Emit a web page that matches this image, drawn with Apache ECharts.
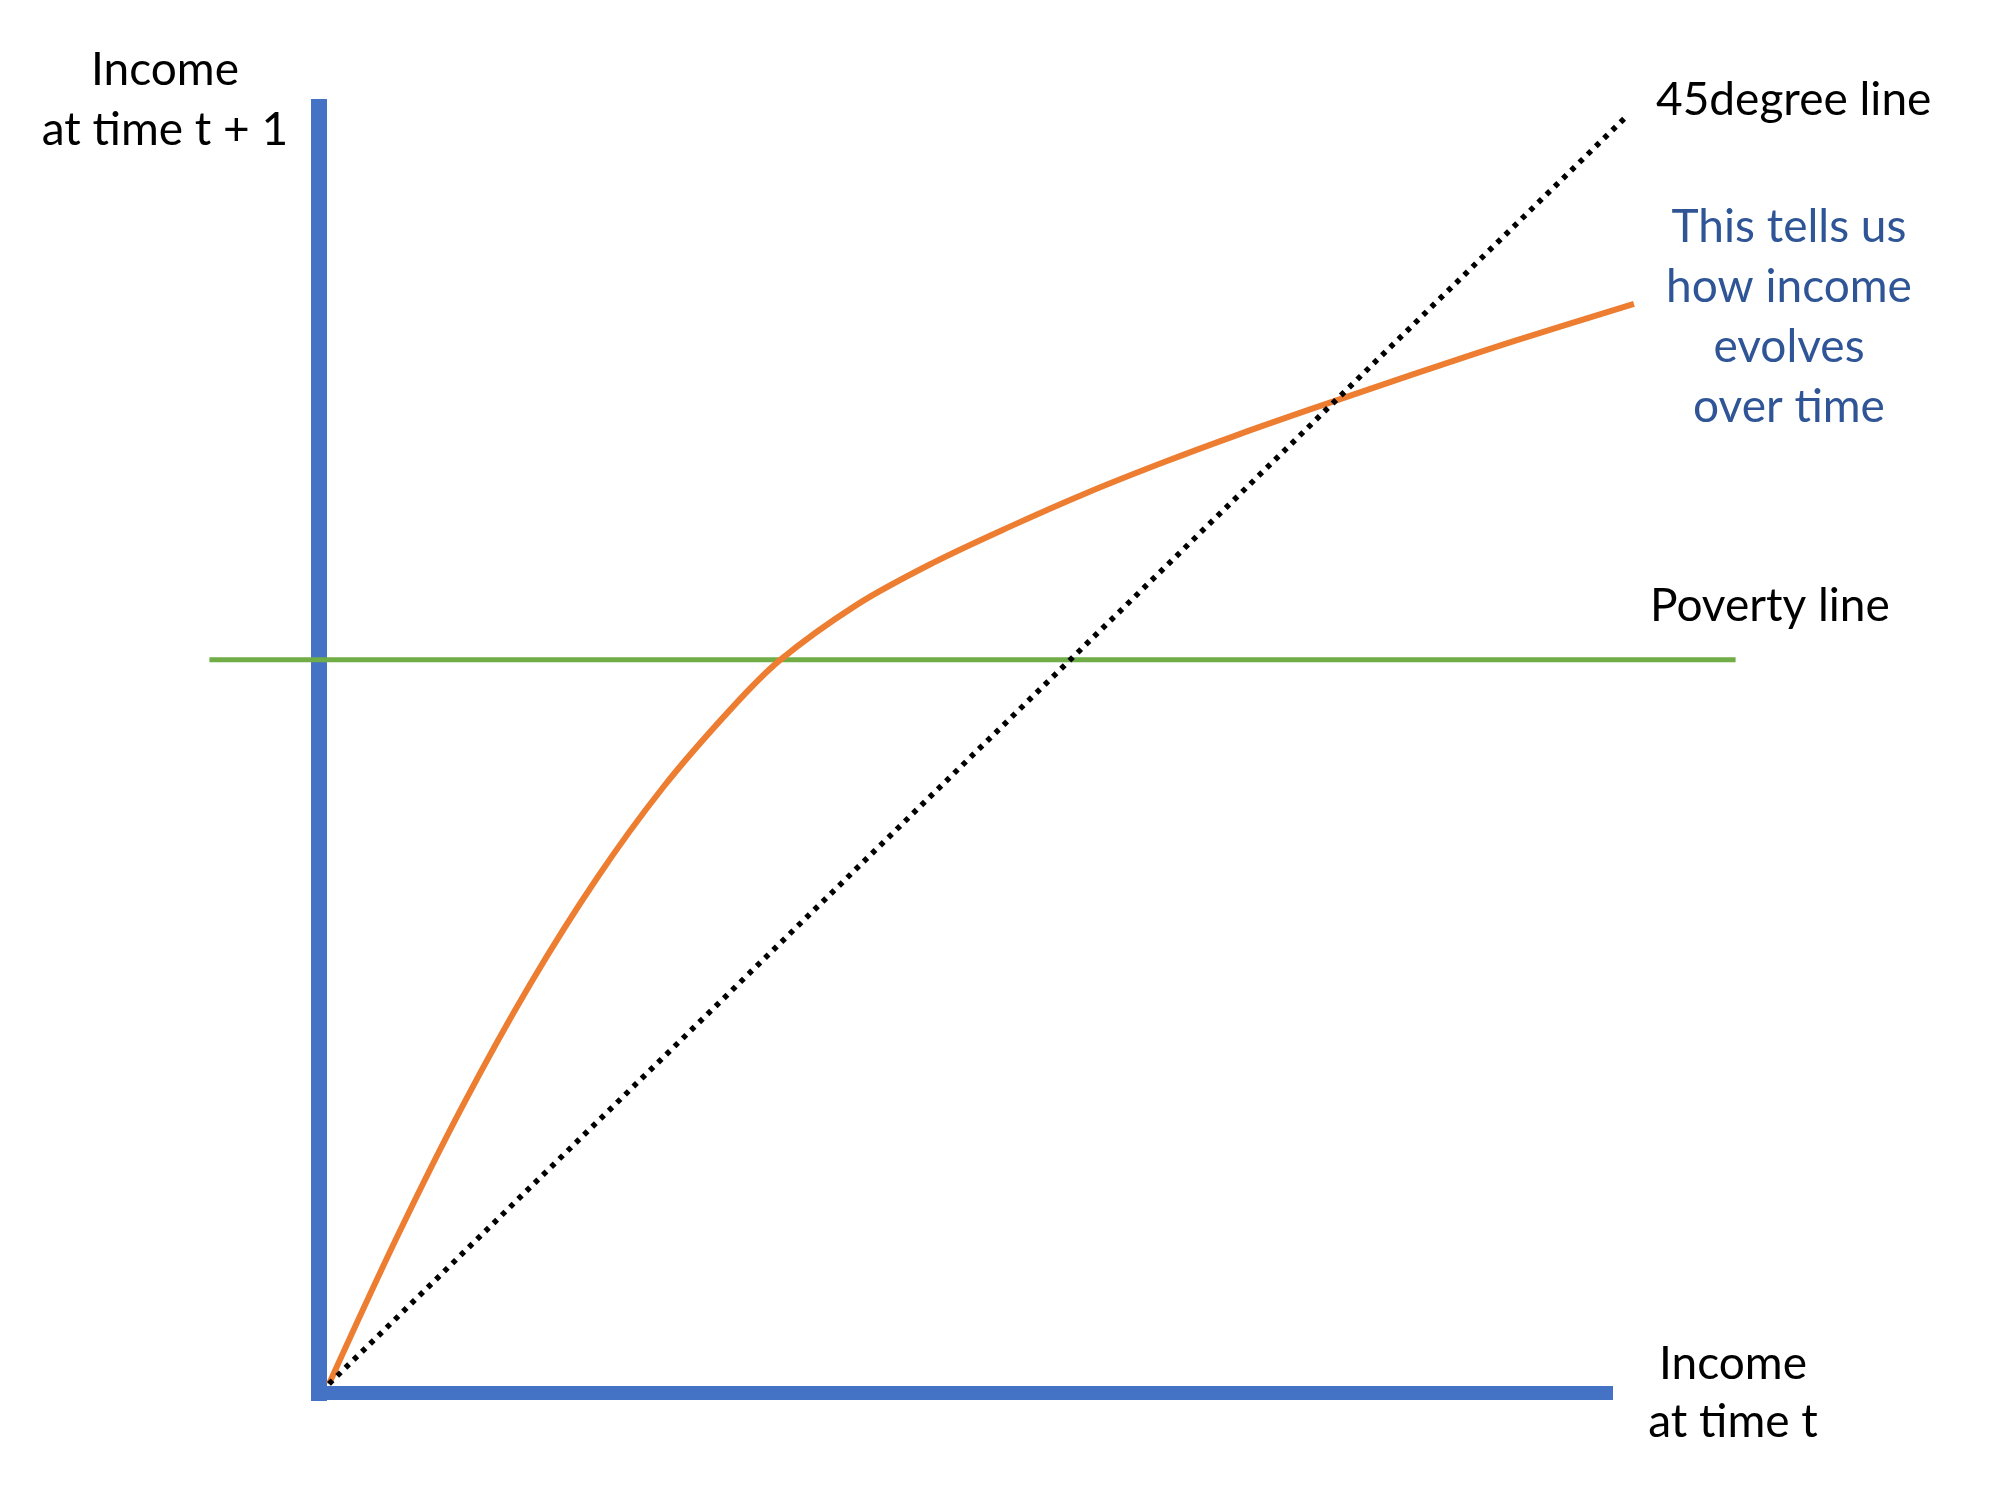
<!DOCTYPE html>
<html>
<head>
<meta charset="utf-8">
<script src="https://cdn.jsdelivr.net/npm/echarts@6/dist/echarts.min.js"></script>
<style>html,body{margin:0;padding:0;background:#fff;}#c{width:2000px;height:1500px;}</style>
</head>
<body>
<div id="c"></div>
<script>
// Income at time t (x) -> income at time t+1 (y), arbitrary units
const curveX = [0, 5.23, 10.31, 15.46, 20.62, 25.69, 30.85, 34.62, 40.62, 46.46, 52.38, 58.23, 64.15, 70.0, 75.92, 83.15, 91.08, 100.38];
const curveY = [0, 11.30, 21.45, 30.73, 38.92, 45.88, 51.85, 55.62, 59.95, 63.16, 65.95, 68.52, 70.88, 73.05, 75.12, 77.58, 80.20, 83.08];
const diagX = [0, 99.9];
const diagY = [0, 97.6];
const povertyX = [-9.2, 108.2];
const povertyY = [55.7, 55.7];

const xLabelLines = ['Income', 'at time t'];
const yLabelLines = ['Income', 'at time t + 1'];
const diagLabel = '45degree line';
const povertyLabel = 'Poverty line';
const noteLines = ['This tells us', 'how income', 'evolves', 'over time'];

const zip = (a, b) => a.map((v, i) => [v, b[i]]);
const FONT = 'Lato';
const FS = 46;
const hidden = {axisLine: {show: false}, axisTick: {show: false}, axisLabel: {show: false}, splitLine: {show: false}};

const chart = echarts.init(document.getElementById('c'), null, {renderer: 'canvas'});
chart.setOption({
  animation: false,
  backgroundColor: '#ffffff',
  grid: [
    // visible axes
    {left: 319, top: 107, right: 394, bottom: 107, containLabel: false},
    // drawing area for the curves (same scale, wider extent)
    {left: 199, top: 84, right: 241, bottom: 107, containLabel: false}
  ],
  xAxis: [
    {
      gridIndex: 0, type: 'value', min: -0.8, max: 98.2,
      axisLine: {show: true, onZero: false, lineStyle: {color: '#4472C4', width: 14, cap: 'square'}},
      axisTick: {show: false}, axisLabel: {show: false}, splitLine: {show: false}
    },
    Object.assign({gridIndex: 1, type: 'value', min: -10, max: 110}, hidden)
  ],
  yAxis: [
    {
      gridIndex: 0, type: 'value', min: -0.7, max: 98.2,
      axisLine: {show: true, onZero: false, lineStyle: {color: '#4472C4', width: 16, cap: 'square'}},
      axisTick: {show: false}, axisLabel: {show: false}, splitLine: {show: false}
    },
    Object.assign({gridIndex: 1, type: 'value', min: -0.7, max: 100}, hidden)
  ],
  series: [
    {
      name: 'Poverty line', type: 'line', xAxisIndex: 1, yAxisIndex: 1, data: zip(povertyX, povertyY),
      symbol: 'none', clip: false, silent: true,
      lineStyle: {color: '#70AD47', width: 5}
    },
    {
      name: 'Income dynamics', type: 'line', xAxisIndex: 1, yAxisIndex: 1, data: zip(curveX, curveY),
      symbol: 'none', clip: false, smooth: 0.33, silent: true,
      lineStyle: {color: '#ED7D31', width: 6}
    },
    {
      name: '45degree line', type: 'line', xAxisIndex: 1, yAxisIndex: 1, data: zip(diagX, diagY),
      symbol: 'none', clip: false, silent: true,
      lineStyle: {color: '#000000', width: 5.5, type: [5, 6.5], cap: 'butt'}
    }
  ],
  graphic: [
    {type: 'text', x: 165, y: 40, style: {text: yLabelLines.join('\n'), font: FS + 'px ' + FONT, fill: '#000', align: 'center', verticalAlign: 'top', lineHeight: 60}},
    {type: 'text', x: 1733, y: 1335, style: {text: xLabelLines.join('\n'), font: FS + 'px ' + FONT, fill: '#000', align: 'center', verticalAlign: 'top', lineHeight: 58}},
    {type: 'text', x: 1656, y: 100, style: {text: diagLabel, font: FS + 'px ' + FONT, fill: '#000', align: 'left', verticalAlign: 'middle'}},
    {type: 'text', x: 1650, y: 606, style: {text: povertyLabel, font: FS + 'px ' + FONT, fill: '#000', align: 'left', verticalAlign: 'middle'}},
    {type: 'text', x: 1789, y: 197, style: {text: noteLines.join('\n'), font: FS + 'px ' + FONT, fill: '#2F5597', align: 'center', verticalAlign: 'top', lineHeight: 60}}
  ]
});
</script>
</body>
</html>
